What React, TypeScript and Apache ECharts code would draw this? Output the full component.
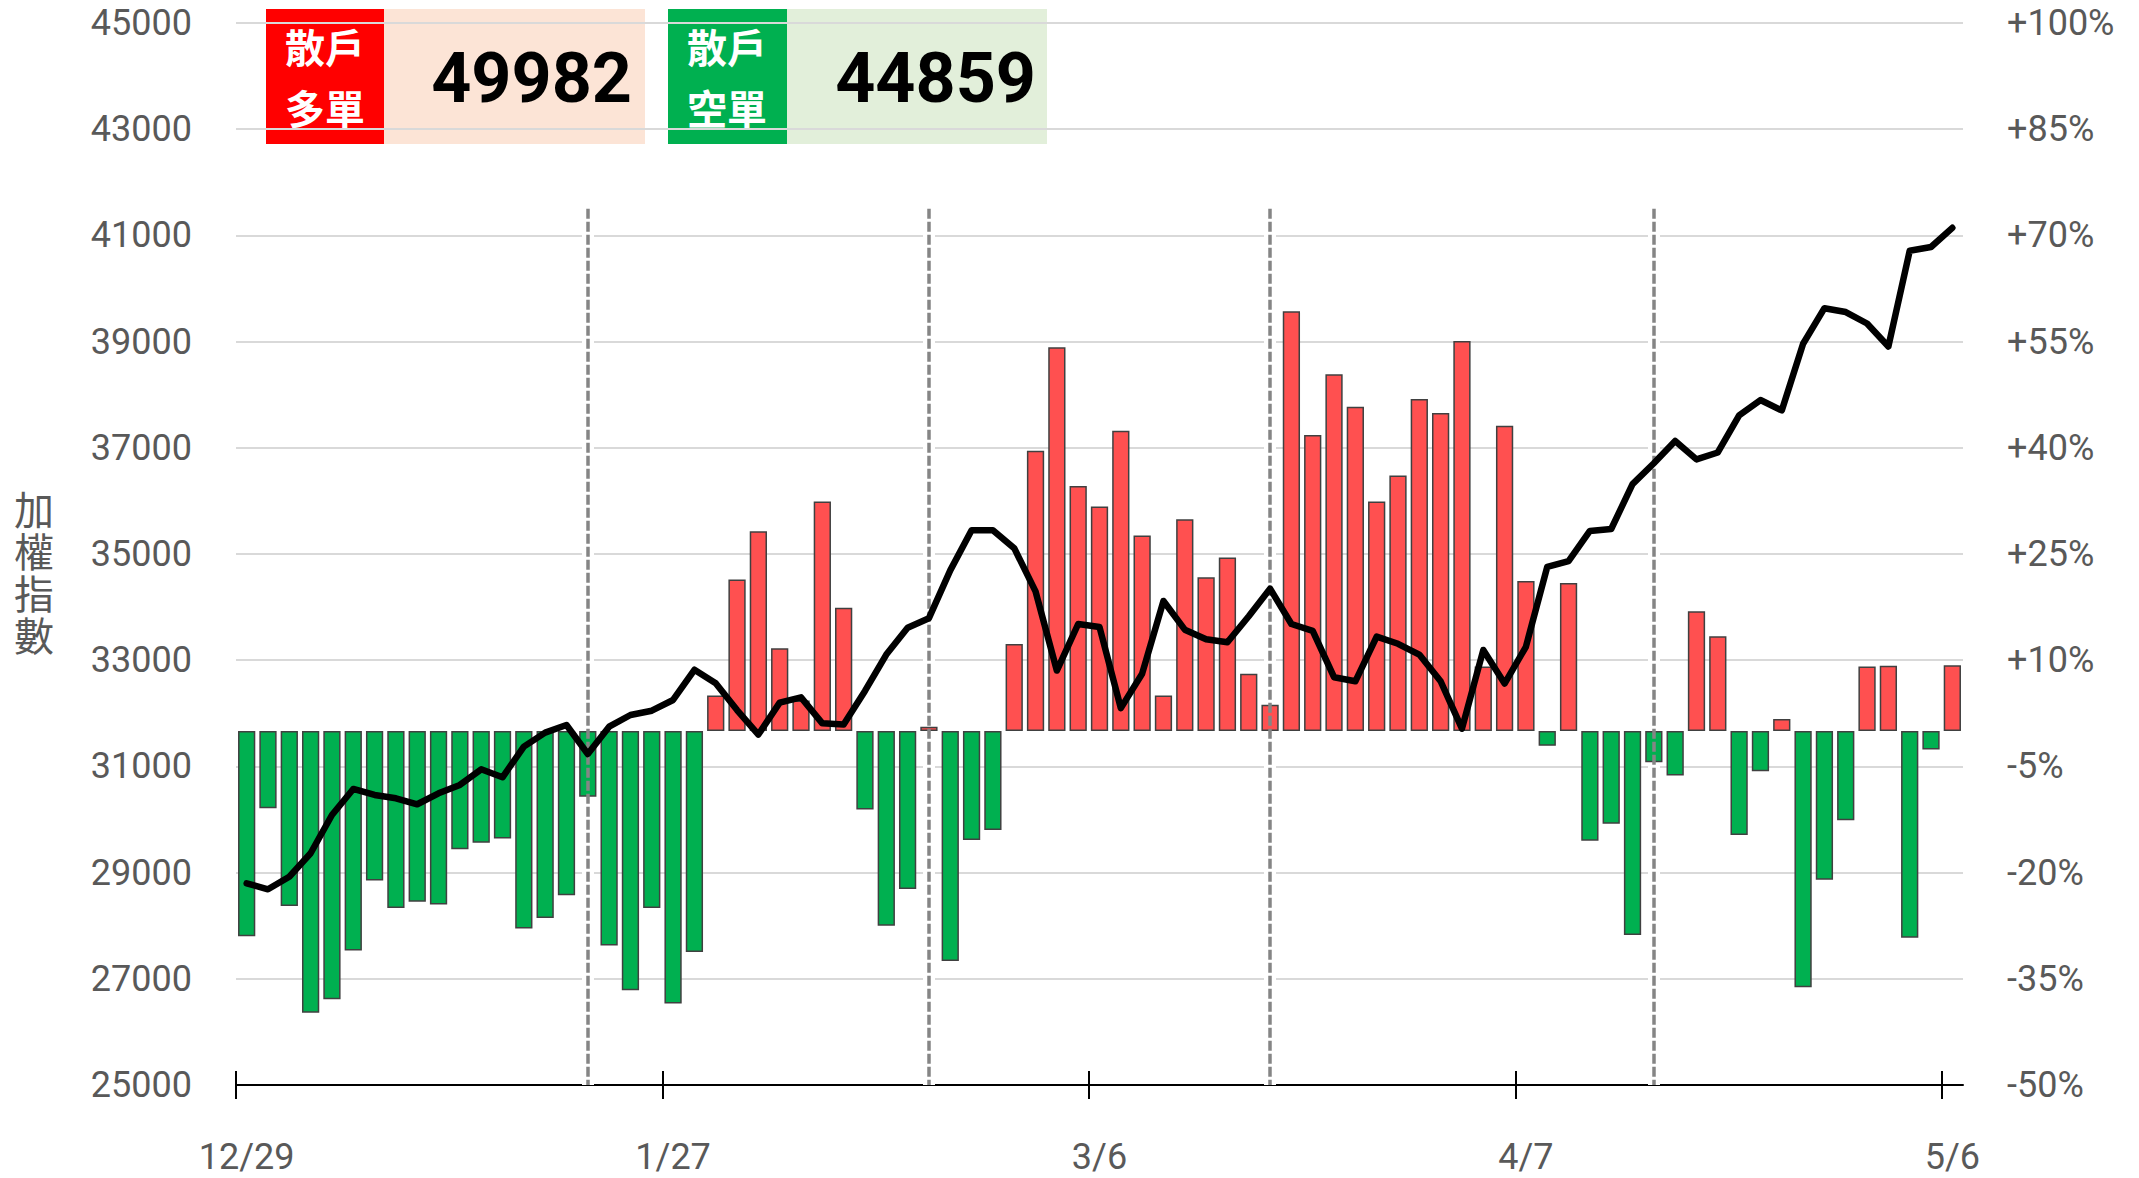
import React, { useEffect, useRef } from "react";
import * as echarts from "echarts";

const dates = ['12/29','12/30','12/31','1/2','1/5','1/6','1/7','1/8','1/9','1/12','1/13','1/14','1/15','1/16','1/19','1/20','1/21','1/22','1/23','1/26','1/27','1/28','1/29','1/30','2/2','2/3','2/4','2/5','2/6','2/9','2/10','2/11','2/23','2/24','2/25','2/26','3/2','3/3','3/4','3/5','3/6','3/9','3/10','3/11','3/12','3/13','3/16','3/17','3/18','3/19','3/20','3/23','3/24','3/25','3/26','3/27','3/30','3/31','4/1','4/2','4/7','4/8','4/9','4/10','4/13','4/14','4/15','4/16','4/17','4/20','4/21','4/22','4/23','4/24','4/27','4/28','4/29','4/30','5/4','5/5','5/6'];

// 散戶多空比 (%) — bars on the right axis
const retailRatio = [
  -29.0, -10.9, -24.7, -39.8, -37.9, -31.0, -21.1, -25.0, -24.1, -24.5,
  -16.7, -15.8, -15.2, -27.9, -26.4, -23.2, -9.3, -30.3, -36.6, -25.0,
  -38.5, -31.2, 5.0, 21.4, 28.2, 11.7, 4.3, 32.4, 17.4, -11.1,
  -27.5, -22.3, 0.6, -32.5, -15.4, -14.0, 12.3, 39.6, 54.2, 34.6,
  31.7, 42.4, 27.6, 5.0, 29.9, 21.7, 24.5, 8.1, 3.7, 59.3,
  41.8, 50.4, 45.8, 32.4, 36.1, 46.9, 44.9, 55.1, 9.1, 43.1,
  21.2, -2.1, 20.9, -15.5, -13.1, -28.8, -4.4, -6.3, 16.9, 13.4,
  -14.7, -5.7, 1.7, -36.2, -21.0, -12.6, 9.1, 9.2, -29.2, -2.6,
  9.3,
];

// 加權指數 — line on the left axis
const taiex = [
  28799, 28686, 28923, 29364, 30085, 30575, 30462, 30400, 30287, 30494,
  30650, 30946, 30795, 31372, 31636, 31780, 31234, 31748, 31968, 32049,
  32251, 32820, 32565, 32062, 31600, 32200, 32300, 31811, 31790, 32422,
  33106, 33611, 33791, 34692, 35449, 35449, 35110, 34296, 32805, 33682,
  33626, 32098, 32746, 34115, 33575, 33396, 33337, 33827, 34347, 33682,
  33554, 32680, 32603, 33445, 33309, 33106, 32603, 31710, 33192, 32560,
  33253, 34758, 34865, 35435, 35471, 36315, 36710, 37128, 36782, 36912,
  37610, 37900, 37704, 38959, 39629, 39557, 39341, 38908, 40710, 40782,
  41143,
];

const settlementDates = ['1/21', '2/23', '3/18', '4/15'];
const settlementTop = 41500;

const leftMin = 25000;
const leftMax = 45000;
const leftInterval = 2000;
const rightTickLabels = ['-50%', '-35%', '-20%', '-5%', '+10%', '+25%', '+40%', '+55%', '+70%', '+85%', '+100%'];
const ratioMin = -50;
const ratioMax = 100;

const yAxisTitle = ['加', '權', '指', '數'];
const longLabel = ['散戶', '多單'];
const longValue = '49982';
const shortLabel = ['散戶', '空單'];
const shortValue = '44859';

const boundaries = Array.from({ length: dates.length + 1 }, (_, i) => String(i));

const FONT = 'Roboto';
const GREY_TEXT = '#595959';

export default function App() {
  const ref = useRef<HTMLDivElement>(null);
  useEffect(() => {
    document.body.style.margin = '0';
    const chart = echarts.init(ref.current!, undefined, { renderer: 'svg' });
    const tickAxis = (inside: boolean) => ({
      type: 'category',
      data: boundaries,
      position: 'bottom',
      boundaryGap: false,
      axisLine: { show: false, onZero: false },
      axisLabel: { show: false },
      splitLine: { show: false },
      axisTick: { show: true, inside, interval: 19, length: 14, lineStyle: { color: '#000', width: 2 } },
    });
    const cjk = '"Noto Sans CJK TC"';
    const settleSegments = settlementDates.map((d) => [{ xAxis: d, yAxis: settlementTop }, { xAxis: d, yAxis: leftMin }]);
    const option: any = {
      animation: false,
      textStyle: { fontFamily: FONT },
      grid: { left: 236, right: 176, top: 23, bottom: 93 },
      xAxis: [
        {
          type: 'category',
          data: dates,
          position: 'bottom',
          boundaryGap: true,
          axisLine: { onZero: false, lineStyle: { color: '#000', width: 2 } },
          axisTick: { show: false },
          axisLabel: { interval: 19, fontSize: 36, color: GREY_TEXT, margin: 54, fontFamily: FONT },
          splitLine: { show: false },
        },
        tickAxis(false),
        tickAxis(true),
      ],
      yAxis: [
        {
          type: 'value', position: 'left', min: leftMin, max: leftMax, interval: leftInterval,
          axisLine: { show: false }, axisTick: { show: false },
          axisLabel: { fontSize: 36, color: GREY_TEXT, margin: 44, fontFamily: FONT, formatter: (v: number) => String(v) },
          splitLine: { lineStyle: { color: '#d9d9d9', width: 2 } },
        },
        { type: 'value', position: 'right', min: ratioMin, max: ratioMax, show: false },
        {
          type: 'value', position: 'right', min: leftMin, max: leftMax, interval: leftInterval,
          axisLine: { show: false }, axisTick: { show: false }, splitLine: { show: false },
          axisLabel: {
            fontSize: 36, color: GREY_TEXT, margin: 44, fontFamily: FONT,
            formatter: (_v: number, i: number) => rightTickLabels[i],
          },
        },
      ],
      series: [
        {
          type: 'line', data: [], z: 1, silent: true, xAxisIndex: 0, yAxisIndex: 0,
          markLine: {
            z: 1, silent: true, symbol: 'none', label: { show: false },
            lineStyle: { color: '#ffffff', width: 12, type: 'solid' },
            data: settleSegments,
          },
        },
        {
          type: 'bar', data: retailRatio, xAxisIndex: 0, yAxisIndex: 1, z: 2,
          barCategoryGap: '19%',
          itemStyle: {
            color: (p: any) => (p.value >= 0 ? '#FF5050' : '#00B050'),
            borderColor: '#404040', borderWidth: 1.5,
          },
        },
        {
          type: 'line', data: [], z: 3, silent: true, xAxisIndex: 0, yAxisIndex: 0,
          markLine: {
            z: 3, silent: true, symbol: 'none', label: { show: false },
            lineStyle: { color: '#858585', width: 3.5, type: [10, 3] },
            data: settleSegments,
          },
        },
        {
          type: 'line', data: taiex, xAxisIndex: 0, yAxisIndex: 0, z: 4,
          symbol: 'none', smooth: false,
          lineStyle: { color: '#000', width: 6.5, cap: 'round', join: 'round' },
        },
      ],
      graphic: [
        { type: 'rect', z: -1, shape: { x: 266, y: 9, width: 118, height: 135 }, style: { fill: '#FF0000' } },
        { type: 'rect', z: -1, shape: { x: 384, y: 9, width: 261, height: 135 }, style: { fill: '#FCE4D6' } },
        { type: 'rect', z: -1, shape: { x: 668, y: 9, width: 119, height: 135 }, style: { fill: '#00B050' } },
        { type: 'rect', z: -1, shape: { x: 787, y: 9, width: 260, height: 135 }, style: { fill: '#E2EFDA' } },
        { type: 'text', z: -1, style: { x: 325, y: 46, text: longLabel[0], align: 'center', verticalAlign: 'middle', font: `bold 40px ${cjk}`, fill: '#fff' } },
        { type: 'text', z: -1, style: { x: 325, y: 107, text: longLabel[1], align: 'center', verticalAlign: 'middle', font: `bold 40px ${cjk}`, fill: '#fff' } },
        { type: 'text', z: -1, style: { x: 727, y: 46, text: shortLabel[0], align: 'center', verticalAlign: 'middle', font: `bold 40px ${cjk}`, fill: '#fff' } },
        { type: 'text', z: -1, style: { x: 727, y: 107, text: shortLabel[1], align: 'center', verticalAlign: 'middle', font: `bold 40px ${cjk}`, fill: '#fff' } },
        { type: 'text', z: -1, style: { x: 632, y: 78, text: longValue, align: 'right', verticalAlign: 'middle', font: `bold 70px ${FONT}`, fill: '#000' } },
        { type: 'text', z: -1, style: { x: 1036, y: 78, text: shortValue, align: 'right', verticalAlign: 'middle', font: `bold 70px ${FONT}`, fill: '#000' } },
        ...yAxisTitle.map((ch, i) => ({
          type: 'text',
          style: { x: 34, y: 508 + i * 42, text: ch, align: 'center', verticalAlign: 'middle', font: `40px ${cjk}`, fill: GREY_TEXT },
        })),
      ],
    };
    chart.setOption(option);
    return () => chart.dispose();
  }, []);
  return <div ref={ref} style={{ position: 'fixed', left: 0, top: 0, width: 2139, height: 1178, background: '#fff' }} />;
}
